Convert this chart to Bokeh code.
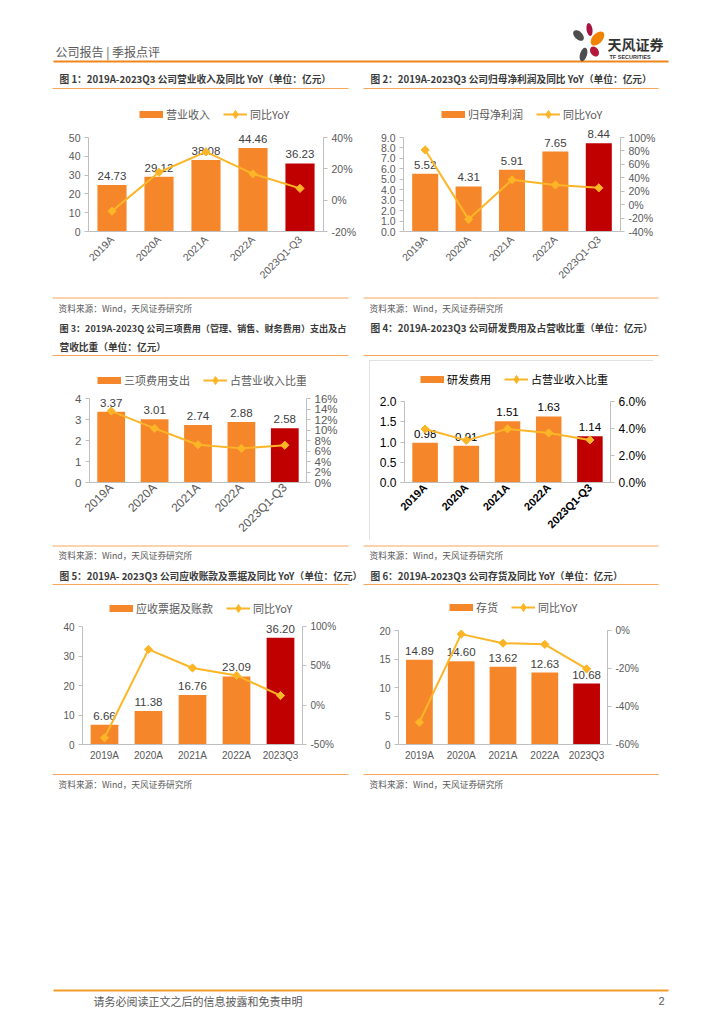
import numpy as np
from bokeh.plotting import figure
from bokeh.models import (ColumnDataSource, Range1d, FactorRange, LinearAxis, LabelSet, Legend,
                          LegendItem, SingleIntervalTicker, PrintfTickFormatter, Spacer)
from bokeh.layouts import row, column
from bokeh.embed import file_html
from bokeh.resources import INLINE
from bokeh.core.properties import value

# ---------------- data ----------------
cats_a = ["2019A", "2020A", "2021A", "2022A", "2023Q1-Q3"]
cats_b = ["2019A", "2020A", "2021A", "2022A", "2023Q3"]

revenue = [24.73, 29.12, 38.08, 44.46, 36.23]
revenue_yoy = [-7.0, 17.8, 30.8, 16.8, 7.5]

net_profit = [5.52, 4.31, 5.91, 7.65, 8.44]
profit_yoy = [81.5, -21.9, 37.1, 29.4, 25.0]

expense = [3.37, 3.01, 2.74, 2.88, 2.58]
expense_ratio = [13.6, 10.3, 7.2, 6.5, 7.1]

rd = [0.98, 0.91, 1.51, 1.63, 1.14]
rd_ratio = [3.96, 3.12, 3.97, 3.67, 3.15]

receivable = [6.66, 11.38, 16.76, 23.09, 36.20]
receivable_yoy = [-41.5, 70.9, 47.3, 37.8, 12.2]

inventory = [14.89, 14.60, 13.62, 12.63, 10.68]
inventory_yoy = [-48.3, -1.9, -6.7, -7.3, -20.2]

titles_row1 = ["图 1：2019A-2023Q3 公司营业收入及同比 YoY（单位：亿元）",
               "图 2：2019A-2023Q3 公司归母净利润及同比 YoY（单位：亿元）"]
title_3a = "图 3：2019A-2023Q 公司三项费用（管理、销售、财务费用）支出及占"
title_3b = "营收比重（单位：亿元）"
title_4 = "图 4：2019A-2023Q3 公司研发费用及占营收比重（单位：亿元）"
titles_row3 = ["图 5：2019A- 2023Q3 公司应收账款及票据及同比 YoY（单位：亿元）",
               "图 6：2019A-2023Q3 公司存货及同比 YoY（单位：亿元）"]
source_text = "资料来源：Wind，天风证券研究所"
header_text = "公司报告 | 季报点评"
footer_text = "请务必阅读正文之后的信息披露和免责申明"
page_no = "2"

# ---------------- style ----------------
ORANGE = "#F5862A"
RED = "#C00000"
GOLD = "#FBB526"
AXIS = "#BFBFBF"
GRAY = "#595959"
DARK = "#404040"
RULE = "#F5A65B"
CJK = "Noto Sans CJK SC"
LAT = "Liberation Sans"


def stretched(rng, frame_h, ext):
    lo, hi = rng
    return Range1d(lo, lo + (hi - lo) * (frame_h + ext) / frame_h)


def chart(cats, bars, line, bar_name, line_name, frame_w, frame_h, borders, legend_loc,
          left_range, left_step, left_fmt, right_range, right_step, right_fmt,
          rotate=True, tick_size="10.5px", xtick_size="10.5px", label_size="11.5px",
          tick_color=GRAY, label_color=DARK, x_bold=False, bar_width=0.62, x_standoff=6,
          styles=None):
    l, r, t, b = borders
    ext = t - 4          # frame reaches up into the legend band; axes stay bounded
    kw = {}
    if styles:
        kw["styles"] = styles
    p = figure(frame_width=frame_w, frame_height=frame_h + ext,
               x_range=FactorRange(factors=cats),
               y_range=stretched(left_range, frame_h, ext), output_backend="svg",
               toolbar_location=None, min_border_left=l, min_border_right=r,
               min_border_top=t - ext, min_border_bottom=b, **kw)
    p.outline_line_color = None
    p.grid.visible = False
    colors = [ORANGE] * (len(cats) - 1) + [RED]
    src = ColumnDataSource(dict(cat=cats, val=bars, yoy=line, color=colors,
                                lbl=[f"{v:.2f}" for v in bars]))
    p.vbar(x="cat", top="val", width=bar_width, fill_color="color", line_color=None, source=src)
    p.extra_y_ranges = {"r": stretched(right_range, frame_h, ext), "proxy": Range1d(-2, -1)}
    ln = p.line(x="cat", y="yoy", y_range_name="r", line_color=GOLD, line_width=2, source=src)
    mk = p.scatter(x="cat", y="yoy", y_range_name="r", marker="square", angle=np.pi / 4,
                   size=5.8, fill_color=GOLD, line_color=GOLD, source=src)
    ln.level = "overlay"
    mk.level = "overlay"

    labels = LabelSet(x="cat", y="val", text="lbl", source=src, text_align="center",
                      text_baseline="bottom", y_offset=5, text_font=value(LAT),
                      text_font_size=label_size, text_color=label_color)
    p.add_layout(labels)

    yl = p.yaxis[0]
    yl.ticker = SingleIntervalTicker(interval=left_step)
    yl.formatter = PrintfTickFormatter(format=left_fmt)
    yl.bounds = tuple(left_range)
    yr = LinearAxis(y_range_name="r", ticker=SingleIntervalTicker(interval=right_step),
                    formatter=PrintfTickFormatter(format=right_fmt), bounds=tuple(right_range))
    p.add_layout(yr, "right")
    for ax in (yl, yr):
        ax.axis_line_color = AXIS
        ax.major_tick_line_color = AXIS
        ax.minor_tick_line_color = None
        ax.major_tick_out = 4
        ax.major_tick_in = 0
        ax.major_label_standoff = 4
        ax.major_label_text_font = LAT
        ax.major_label_text_font_size = tick_size
        ax.major_label_text_color = tick_color
    xa = p.xaxis[0]
    xa.axis_line_color = AXIS
    xa.major_tick_line_color = None
    xa.major_tick_out = 0
    xa.major_tick_in = 0
    xa.major_label_standoff = x_standoff
    xa.major_label_text_font = LAT
    xa.major_label_text_font_size = xtick_size
    xa.major_label_text_color = tick_color
    if x_bold:
        xa.major_label_text_font_style = "bold"
    if rotate:
        xa.major_label_orientation = np.pi / 4

    # legend keys (drawn only in the legend; their data sit outside the visible range)
    bar_key = p.line(x="cat", y="val", y_range_name="proxy", line_color=ORANGE,
                     line_width=7, source=src)
    dia_key = p.scatter(x="cat", y="val", y_range_name="proxy", marker="diamond", size=8,
                        fill_color=GOLD, line_color=GOLD, source=src)
    legend = Legend(items=[LegendItem(label=bar_name, renderers=[bar_key]),
                           LegendItem(label=line_name, renderers=[ln, dia_key])],
                    orientation="horizontal", location=legend_loc, border_line_color=None,
                    background_fill_alpha=0, label_text_font=CJK, label_text_font_size="11px",
                    label_text_color=tick_color, glyph_width=24, glyph_height=20,
                    label_height=20, label_standoff=3, spacing=13, padding=0, margin=0)
    p.add_layout(legend)
    return p


def deco(y0, y1):
    p = figure(width=708, height=y1 - y0, x_range=Range1d(8, 716), y_range=Range1d(y1, y0),
               output_backend="svg", toolbar_location=None, min_border=0,
               x_axis_location=None, y_axis_location=None)
    p.grid.visible = False
    p.outline_line_color = None
    return p


def title_text(p, xs, ys, texts, size="9.7px"):
    p.text(x=xs, y=ys, text=texts, text_font=value(CJK), text_font_size=size,
           text_font_style="bold", text_color="#3A3A3A", text_baseline="middle",
           text_align="left")


def source(p, y_line, y_text):
    p.segment(x0=[52, 363], y0=[y_line, y_line], x1=[348, 658], y1=[y_line, y_line],
              line_color=RULE, line_width=1)
    p.text(x=[58, 369], y=[y_text, y_text], text=[source_text, source_text],
           text_font=value(CJK), text_font_size="8.7px", text_color=GRAY,
           text_baseline="middle", text_align="left")


def rules(p, y):
    p.segment(x0=[52, 363], y0=[y, y], x1=[348, 658], y1=[y, y], line_color=RULE, line_width=1)


# ---------------- header ----------------
head = deco(8, 92)
head.text(x=[55], y=[51], text=[header_text], text_font=value(CJK), text_font_size="12px",
          text_color="#5A5A5A", text_baseline="middle")
head.segment(x0=[53], y0=[61], x1=[668], y1=[61], line_color="#F08519", line_width=2)
head.ellipse(x=[589, 597, 578, 594, 583], y=[29, 38, 35, 51, 54],
             width=[6, 10, 8, 8, 7], height=[13, 17, 13, 11, 14],
             angle=[0.15, -0.75, 0.8, 0.6, -0.3],
             fill_color=["#A8123E", "#F08300", "#4D4D4D", "#B5173B", "#4D4D4D"], line_color=None)
head.text(x=[607], y=[43], text=["天风证券"], text_font=value(CJK), text_font_size="14px",
          text_font_style="bold", text_color="#333333", text_baseline="middle")
head.text(x=[609], y=[56], text=["TF SECURITIES"], text_font=value(LAT), text_font_size="5.5px",
          text_font_style="bold", text_color="#333333", text_baseline="middle")
title_text(head, [59, 370], [78, 78], titles_row1)
rules(head, 88)

# ---------------- separators ----------------
sep2 = deco(294, 360)
source(sep2, 297.5, 307.5)
title_text(sep2, [59], [327], [title_3a], size="9.1px")
title_text(sep2, [59, 370], [346, 327], [title_3b, title_4])
rules(sep2, 355)

sep3 = deco(544, 590)
source(sep3, 545.5, 555)
title_text(sep3, [59, 370], [575, 575], titles_row3)
rules(sep3, 584)

foot = deco(770, 1010)
source(foot, 774, 784)
foot.segment(x0=[53], y0=[990], x1=[668], y1=[990], line_color="#F29C2B", line_width=2)
foot.text(x=[93], y=[1000], text=[footer_text], text_font=value(CJK), text_font_size="11px",
          text_color=GRAY, text_baseline="middle")
foot.text(x=[664], y=[1000], text=[page_no], text_font=value(LAT), text_font_size="11px",
          text_color=GRAY, text_baseline="middle", text_align="right")

# ---------------- charts ----------------
c1 = chart(cats_a, revenue, revenue_yoy, "营业收入", "同比YoY", 235, 94, (35, 35, 45, 63),
           (51, 107), (0, 50), 10, "%d", (-20, 40), 20, "%d%%")
c2 = chart(cats_a, net_profit, profit_yoy, "归母净利润", "同比YoY", 217, 94, (40, 51, 45, 63),
           (38, 107), (0, 9), 1, "%.1f", (-40, 100), 20, "%d%%", bar_width=0.6)
c3 = chart(cats_a, expense, expense_ratio, "三项费用支出", "占营业收入比重", 217, 84,
           (36, 52, 38, 62), (8, 92), (0, 4), 1, "%d", (0, 16), 2, "%d%%", tick_size="11.5px",
           xtick_size="12px", label_size="11.5px", bar_width=0.64, x_standoff=3)
c4 = chart(cats_a, rd, rd_ratio, "研发费用", "占营业收入比重", 206, 81, (35, 43, 41, 58),
           (16, 93), (0, 2), 0.5, "%.1f", (0, 6), 2, "%.1f%%", tick_size="12px", xtick_size="11px",
           label_size="11.5px", tick_color="#000000", label_color="#000000", x_bold=True,
           x_standoff=3, styles={"outline": "1px solid #D9D9D9", "outline-offset": "-1px"})
c5 = chart(cats_b, receivable, receivable_yoy, "应收票据及账款", "同比YoY", 220, 118,
           (29, 56, 36, 26), (27, 126), (0, 40), 10, "%d", (-50, 100), 50, "%d%%", rotate=False,
           tick_size="10px", xtick_size="10px", bar_width=0.63, x_standoff=5)
c6 = chart(cats_b, inventory, inventory_yoy, "存货", "同比YoY", 209, 114, (36, 63, 40, 26),
           (51, 127), (0, 20), 5, "%d", (-60, 0), 20, "%d%%", rotate=False,
           tick_size="10px", xtick_size="10px", bar_width=0.64, x_standoff=5)

row1 = row(Spacer(width=45, height=202), c1, Spacer(width=4, height=202), c2,
           Spacer(width=46, height=202))
row2 = row(Spacer(width=45, height=184), c3, Spacer(width=11, height=184), c4,
           Spacer(width=63, height=184))
row3 = row(Spacer(width=45, height=180), c5, Spacer(width=4, height=180), c6,
           Spacer(width=46, height=180))

page_col = column(head, row1, sep2, row2, sep3, row3, foot)
page = column(Spacer(width=716, height=8), row(Spacer(width=8, height=1002), page_col))

open("out.html", "w").write(file_html(page, INLINE))
